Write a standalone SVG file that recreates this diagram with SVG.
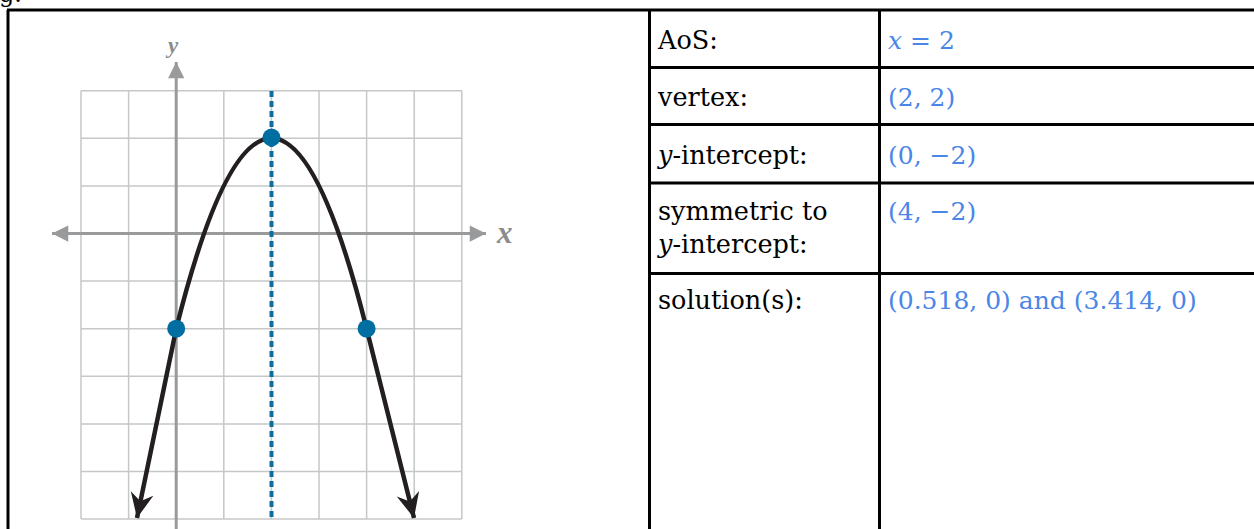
<svg xmlns="http://www.w3.org/2000/svg" width="1254" height="529" viewBox="0 0 1254 529">
<style>
.grid{stroke:#c6c7c9;stroke-width:1.5;fill:none}
.axis{stroke:#999a9c;stroke-width:3;fill:none}
.frame{stroke:#000;stroke-width:3;fill:none}
.lbl{font-family:"DejaVu Serif","Liberation Serif",serif;font-size:25.5px;fill:#000}
.val{font-family:"DejaVu Serif","Liberation Serif",serif;font-size:25px;fill:#4a86e8}
.ax{font-family:"Liberation Serif",serif;font-style:italic;font-weight:bold;fill:#8a8c8e}
.dot{fill:#006ea1}
</style>
<defs>
<marker id="axArrow" markerUnits="userSpaceOnUse" markerWidth="20" markerHeight="20" viewBox="-14 -8 16 16" refX="0" refY="0" orient="auto-start-reverse">
<path d="M0,0 L-13,-6.5 L-13,6.5 Z" fill="#999a9c"/>
</marker>
<marker id="crvArrow" markerUnits="userSpaceOnUse" markerWidth="30" markerHeight="30" viewBox="-27 -14 30 28" refX="0" refY="0" orient="auto-start-reverse">
<path d="M0,0 L-25,-11.5 L-17,0 L-25,11.5 Z" fill="#231f20"/>
</marker>
</defs>
<rect width="1254" height="529" fill="#fff"/>
<text x="-1" y="2" style="font-family:'DejaVu Serif',serif;font-size:24px;fill:#000">g.</text>

<g id="graph">
<g id="grid" class="grid">
<path d="M81,90.7V519.1M128.6,90.7V519.1M176.2,90.7V519.1M223.8,90.7V519.1M271.4,90.7V519.1M319,90.7V519.1M366.6,90.7V519.1M414.2,90.7V519.1M461.8,90.7V519.1"/>
<path d="M81,90.7H461.8M81,138.3H461.8M81,185.9H461.8M81,233.5H461.8M81,281.1H461.8M81,328.7H461.8M81,376.3H461.8M81,423.9H461.8M81,471.5H461.8M81,519.1H461.8"/>
</g>
<g id="axes">
<path class="axis" d="M52,233.5H486" marker-start="url(#axArrow)" marker-end="url(#axArrow)"/>
<path class="axis" d="M176.2,529V62" marker-end="url(#axArrow)"/>
<text class="ax" x="168" y="53" font-size="23">y</text>
<text class="ax" x="497" y="243" font-size="31">x</text>
</g>
<path id="aos" d="M271.5,91V519" stroke="#0d6f9e" stroke-width="4" stroke-dasharray="6 4" fill="none"/>
<g id="connectors">
<path d="M137,518 L176.2,328.7 Q271.4,-52.1 366.6,328.7 L414,518" stroke="#231f20" stroke-width="4.5" fill="none" stroke-linejoin="round" marker-start="url(#crvArrow)" marker-end="url(#crvArrow)"/>
</g>
<g id="points">
<circle class="dot" cx="271.5" cy="137.5" r="9"/>
<circle class="dot" cx="176.2" cy="328.7" r="9"/>
<circle class="dot" cx="366.6" cy="328.7" r="9"/>
</g>
</g>

<g id="table">
<g id="frame" class="frame">
<path d="M7,10H1254"/>
<path d="M8,10V529"/>
<path d="M649.5,10V529"/>
<path d="M879.5,10V529"/>
<path d="M649.5,67.5H1254M649.5,124.5H1254M649.5,183H1254M649.5,273.5H1254"/>
</g>
<g id="row-aos">
<text class="lbl" x="658" y="49">AoS:</text>
<text class="val" x="888" y="49"><tspan font-style="italic">x</tspan> = 2</text>
</g>
<g id="row-vertex">
<text class="lbl" x="658" y="106">vertex:</text>
<text class="val" x="888" y="106">(2, 2)</text>
</g>
<g id="row-yint">
<text class="lbl" x="658" y="164"><tspan font-style="italic">y</tspan>-intercept:</text>
<text class="val" x="888" y="164">(0, −2)</text>
</g>
<g id="row-sym">
<text class="lbl" x="658" y="220">symmetric to</text>
<text class="lbl" x="658" y="253"><tspan font-style="italic">y</tspan>-intercept:</text>
<text class="val" x="888" y="220">(4, −2)</text>
</g>
<g id="row-sol">
<text class="lbl" x="658" y="309">solution(s):</text>
<text class="val" x="888" y="309">(0.518, 0) and (3.414, 0)</text>
</g>
</g>
</svg>
